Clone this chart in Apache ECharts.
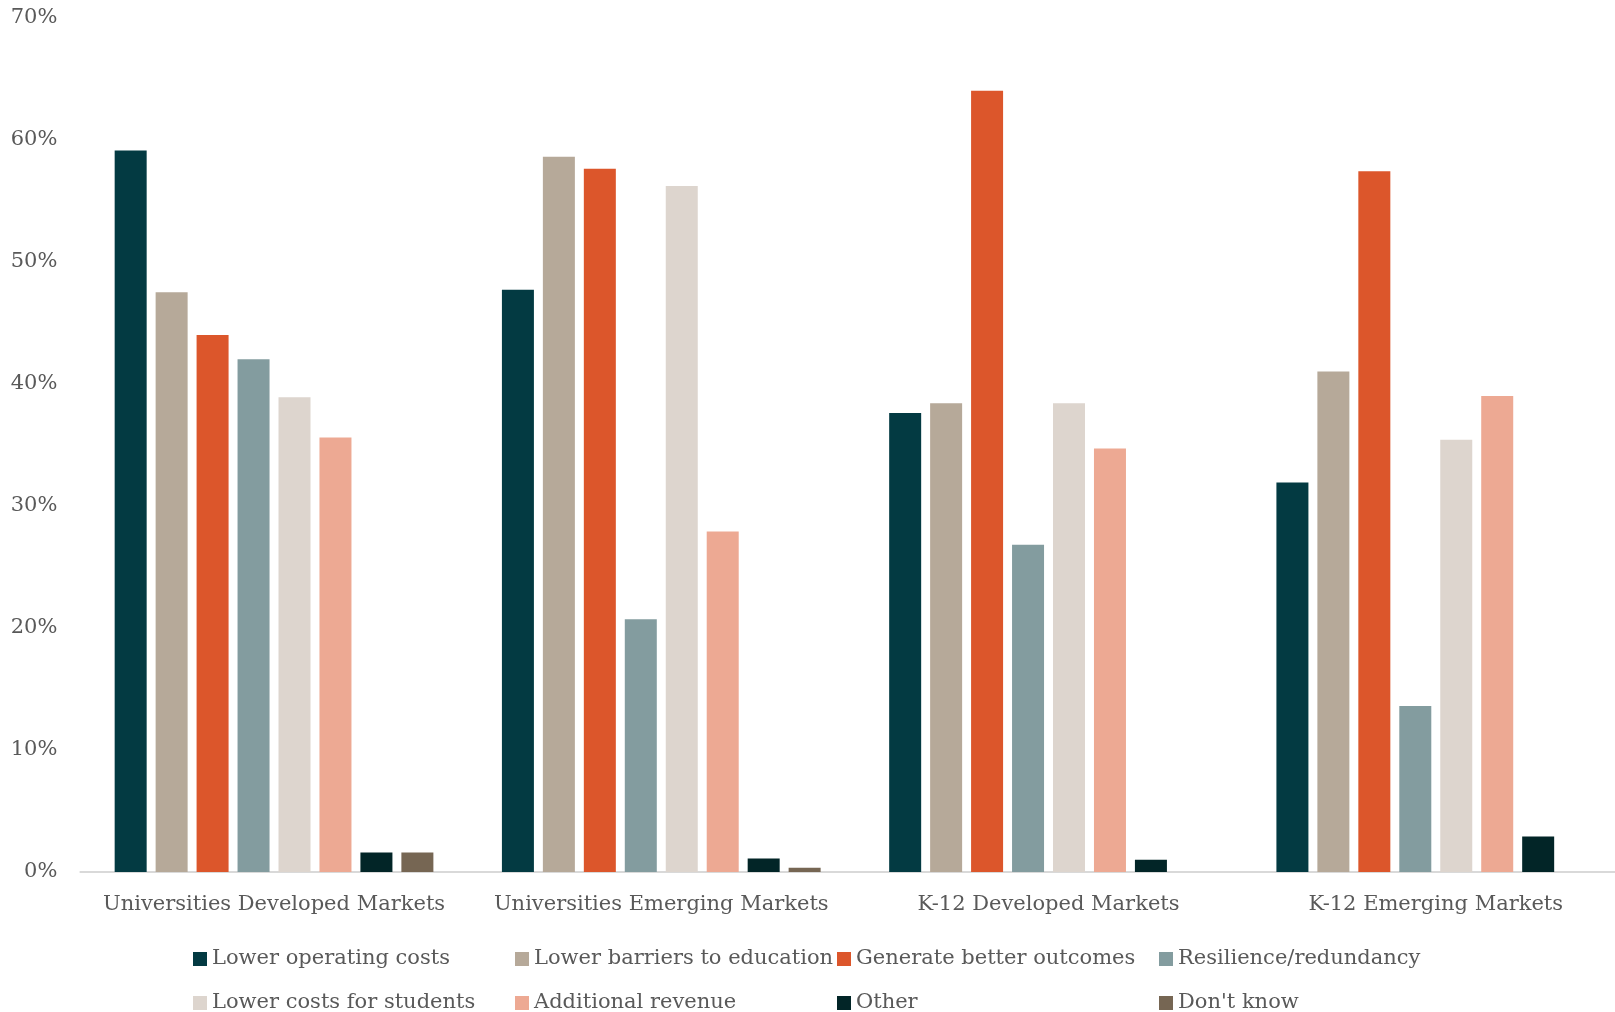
<!DOCTYPE html>
<html>
<head>
<meta charset="utf-8">
<script src="https://cdn.jsdelivr.net/npm/echarts@6/dist/echarts.min.js"></script>
<style>
  html, body { margin: 0; padding: 0; background: #ffffff; }
  #chart { width: 1615px; height: 1012px; }
</style>
</head>
<body>
<div id="chart"></div>
<script>
// Market segments along the x axis
const categories = [
  'Universities Developed Markets',
  'Universities Emerging Markets',
  'K-12 Developed Markets',
  'K-12 Emerging Markets'
];

// Share of respondents (%) per reason, one value per segment
const lowerOperatingCosts   = [59.1, 47.7, 37.6, 31.9];
const lowerBarriers         = [47.5, 58.6, 38.4, 41.0];
const betterOutcomes        = [44.0, 57.6, 64.0, 57.4];
const resilience            = [42.0, 20.7, 26.8, 13.6];
const lowerCostsStudents    = [38.9, 56.2, 38.4, 35.4];
const additionalRevenue     = [35.6, 27.9, 34.7, 39.0];
const other                 = [1.6, 1.1, 1.0, 2.9];
const dontKnow              = [1.6, 0.35, null, null];

const seriesNames = [
  'Lower operating costs',
  'Lower barriers to education',
  'Generate better outcomes',
  'Resilience/redundancy',
  'Lower costs for students',
  'Additional revenue',
  'Other',
  "Don't know"
];
const seriesValues = [
  lowerOperatingCosts, lowerBarriers, betterOutcomes, resilience,
  lowerCostsStudents, additionalRevenue, other, dontKnow
];
const seriesColors = [
  '#033a42', '#b6a999', '#dc562b', '#839c9f',
  '#ddd5ce', '#eda993', '#022527', '#766653'
];

// Y axis: 0% to 70% in steps of 10
const yMin = 0, yMax = 70, yStep = 10;

const FONT = '"DejaVu Serif", "Liberation Serif", serif';
const FONT_SIZE = 21;
const TEXT_COLOR = '#595959';

const chart = echarts.init(document.getElementById('chart'), null, { renderer: 'canvas' });

chart.setOption({
  backgroundColor: '#ffffff',
  animation: false,
  textStyle: { fontFamily: FONT },
  // the plot runs a little past the right edge of the canvas
  grid: {
    left: 80.4, width: 1549, top: 17.5, bottom: 140,
    containLabel: false, outerBoundsMode: 'none'
  },
  legend: {
    left: 188,
    top: 932,
    width: 1300,
    itemWidth: 14,
    itemHeight: 14,
    itemGap: 0,
    icon: 'rect',
    data: seriesNames,
    textStyle: {
      fontFamily: FONT,
      fontSize: FONT_SIZE,
      color: TEXT_COLOR,
      width: 303,
      lineHeight: 44,
      padding: [0, 0, 0, 0]
    }
  },
  xAxis: {
    type: 'category',
    data: categories,
    axisLine: { show: true, lineStyle: { color: '#d9d9d9', width: 2 } },
    axisTick: { show: false },
    axisLabel: {
      interval: 0,
      margin: 22,
      fontFamily: FONT,
      fontSize: FONT_SIZE,
      color: TEXT_COLOR
    }
  },
  yAxis: {
    type: 'value',
    min: yMin,
    max: yMax,
    interval: yStep,
    axisLine: { show: false },
    axisTick: { show: false },
    splitLine: { show: false },
    axisLabel: {
      margin: 23,
      fontFamily: FONT,
      fontSize: FONT_SIZE,
      color: TEXT_COLOR,
      formatter: v => v + '%'
    }
  },
  series: seriesNames.map((name, i) => ({
    name,
    type: 'bar',
    data: seriesValues[i],
    barWidth: 32,
    barGap: '28%',
    itemStyle: { color: seriesColors[i] }
  }))
});
</script>
</body>
</html>
